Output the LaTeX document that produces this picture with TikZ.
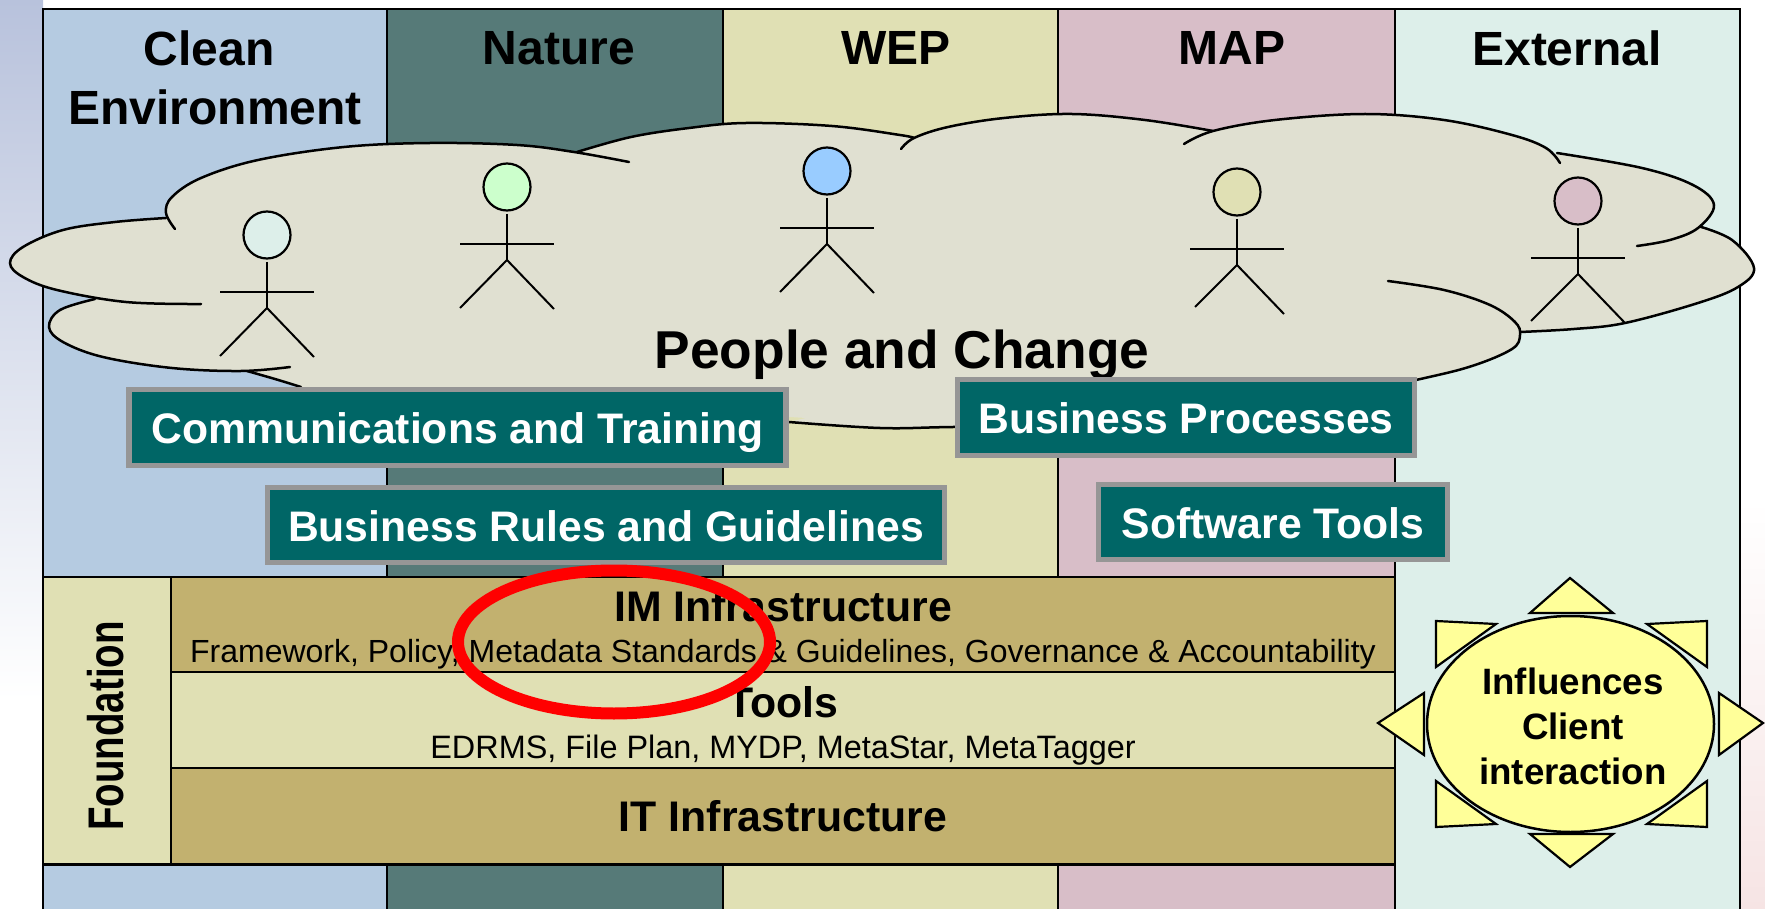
\documentclass[tikz,border=0pt]{standalone}
\usepackage{fontspec}
\setmainfont{Liberation Sans}
\usetikzlibrary{positioning,shapes.geometric}
\definecolor{cleancol}{HTML}{B5CBE1}
\definecolor{naturecol}{HTML}{567A78}
\definecolor{wepcol}{HTML}{E0E0B4}
\definecolor{mapcol}{HTML}{D8BEC8}
\definecolor{extcol}{HTML}{DDEFEA}
\definecolor{cloudcol}{HTML}{E0E0D1}
\definecolor{goldcol}{HTML}{C2B16F}
\definecolor{tealcol}{HTML}{006666}
\definecolor{greycol}{HTML}{969696}
\definecolor{sunnycol}{HTML}{FFFF99}
\definecolor{greenhead}{HTML}{CCFFCC}
\definecolor{bluehead}{HTML}{99CCFF}
\definecolor{edgeblue}{HTML}{B8C2DC}
\definecolor{edgemid}{HTML}{E6E4F4}
\definecolor{edgepink}{HTML}{F6E4E4}
\tikzset{
  heading/.style={font=\fontsize{48}{57}\selectfont\bfseries, align=center, inner sep=0pt},
  tealbox/.style={draw=greycol, line width=5.5pt, fill=tealcol, text=white, inner sep=0pt,
    text height=41pt, text depth=9pt, font=\fontsize{42.7}{48}\selectfont\bfseries},
  band/.style={draw=black, line width=2.8pt, inner sep=0pt, outer sep=0pt},
  bandtitle/.style={font=\fontsize{42.8}{46}\selectfont\bfseries, inner sep=0pt},
  bandsub/.style={font=\fontsize{32}{36}\selectfont, inner sep=0pt},
  cloudline/.style={draw=black, line width=2.5pt, fill=cloudcol, line cap=round},
  headnode/.style={circle, draw=black, line width=2.2pt, minimum size=47pt, inner sep=0pt},
  limb/.style={draw=black, line width=2pt},
  ray/.style={draw=black, line width=2.2pt, fill=sunnycol, line join=miter},
}
\begin{document}
\begin{tikzpicture}[x=1pt, y=-1pt]
\useasboundingbox (0,0) rectangle (1765,909);
% slide background at the edges
\shade[top color=edgeblue, middle color=edgemid, bottom color=white] (0,0) rectangle (43,700);
\shade[top color=white, bottom color=edgepink] (1740,500) rectangle (1765,909);
% columns
\foreach \nm/\xa/\xb/\col in {clean/43/387/cleancol, nature/387/723/naturecol, wep/723/1058/wepcol, map/1058/1395/mapcol, ext/1395/1740/extcol}
  \node[band, fill=\col, minimum width=\xb pt-\xa pt, minimum height=920pt, anchor=north west] (\nm) at (\xa,9) {};
\node[heading] (cleanlab) at (209,48) {Clean};
\node[heading] (envlab) at (215,107) {Environment};
\node[heading] (naturelab) at (559,48.5) {Nature};
\node[heading] (weplab) at (896,48) {WEP};
\node[heading] (maplab) at (1232,48) {MAP};
\node[heading] (extlab) at (1567,48) {External};
% cloud
\fill[cloudcol] (166,218) -- (577,152) -- (746,132) -- (914,138) -- (1213,131) -- (1554,153) -- (1698,226) -- (1625,323) -- (1520,332)
  -- (1416,380) -- (953,427) -- (301,387) -- (247,371) -- (95,299) -- cycle;
\draw[cloudline] plot[smooth, tension=.6] coordinates {(175,229) (166,213) (172,197) (201,178) (258,160) (344,147) (430,143) (517,145) (574,152) (629,162)};
\draw[cloudline] plot[smooth, tension=.6] coordinates {(577,152) (631,137) (689,128) (746,123) (832,126) (900,135) (914,138)};
\draw[cloudline] plot[smooth, tension=.6] coordinates {(901,149) (914,138) (948,127) (1004,118) (1072,114) (1145,120) (1213,131)};
\draw[cloudline] plot[smooth, tension=.6] coordinates {(1184,144) (1213,131) (1275,120) (1365,114) (1444,120) (1512,135) (1546,148) (1560,163)};
\draw[cloudline] plot[smooth, tension=.6] coordinates {(1698,226) (1732,240) (1754,268) (1738,287) (1698,303) (1625,323) (1574,329) (1520,332)};
\draw[cloudline] plot[smooth, tension=.6] coordinates {(1557,153) (1642,168) (1693,185) (1714,205) (1698,228) (1670,240) (1637,246)};
\draw[cloudline] plot[smooth, tension=.6] coordinates {(1388,281) (1444,290) (1490,305) (1515,322) (1520,335) (1512,349) (1472,366) (1416,380) (1300,405) (1100,425) (953,427) (880,428) (789,422)};
\draw[cloudline] plot[smooth, tension=.6] coordinates {(301,387) (275,379) (247,371)};
\draw[cloudline] plot[smooth, tension=.6] coordinates {(290,367) (241,371) (172,368) (103,357) (63,342) (49,327) (60,310) (95,299)};
\draw[cloudline] plot[smooth, tension=.6] coordinates {(201,304) (126,302) (57,290) (23,277) (10,263) (23,247) (63,230) (115,222) (166,218)};
% people
\foreach \i/\px/\py/\hd/\lx/\ly in {a/267/235/extcol/47/121, b/507/187/greenhead/47/121, c/827/171/bluehead/47/121, d/1237/192/wepcol/42/115, e/1578/201/mapcol/47/120} {
  \node[headnode, fill=\hd] (head\i) at (\px,\py) {};
  \draw[limb] (\px,\py+27) -- (\px,\py+73);
  \draw[limb] (\px-47,\py+57) -- (\px+47,\py+57);
  \draw[limb] (\px-\lx,\py+\ly) -- (\px,\py+73) -- (\px+47,\py+122);
}
\node[font=\fontsize{53.3}{56}\selectfont\bfseries, inner sep=0pt] (people) at (902,355) {People and Change};
% process boxes
\node[tealbox, minimum width=657pt, minimum height=76pt] (comms) at (457.5,427.5) {Communications and Training};
\node[tealbox, minimum width=677pt, minimum height=75pt] (rules) at (606,525) {Business Rules and Guidelines};
\node[tealbox, minimum width=457pt, minimum height=76pt] (procs) at (1186,417.5) {Business Processes};
\node[tealbox, minimum width=349pt, minimum height=75pt] (soft) at (1273,522) {Software Tools};
% foundation
\node[band, fill=wepcol, minimum width=128pt, minimum height=287.5pt, anchor=north west] (found) at (43,577) {};
\node[band, fill=goldcol, minimum width=1224pt, minimum height=95pt, anchor=north west] (iminf) at (171,577) {};
\node[band, fill=wepcol, minimum width=1224pt, minimum height=96pt, anchor=north west] (toolsband) at (171,672) {};
\node[band, fill=goldcol, minimum width=1224pt, minimum height=96.5pt, anchor=north west] (itinf) at (171,768) {};
\node[rotate=90, inner sep=0pt, font=\fontsize{38.5}{40}\selectfont\bfseries] (foundlab) at (106,726) {\scalebox{1}[1.3]{Foundation}};
\node[bandtitle] (imlab) at (783,606) {IM Infrastructure};
\node[bandsub] (imsub) at (783,654) {Framework, Policy, Metadata Standards \& Guidelines, Governance \& Accountability};
\node[bandtitle] (toolslab) at (783,702) {Tools};
\node[bandsub, font=\fontsize{32.4}{36}\selectfont] (toolssub) at (783,750) {EDRMS, File Plan, MYDP, MetaStar, MetaTagger};
\node[bandtitle] (itlab) at (783,816) {IT Infrastructure};
\node[ellipse, draw=red, line width=12pt, minimum width=312pt, minimum height=143pt, inner sep=0pt, outer sep=0pt] (circ) at (614,642) {};
% influences
\foreach \ax/\ay/\bx/\by/\cx/\cy in {1570/578/1530/613/1613/613, 1530/834/1613/834/1570/867, 1378/723/1424/693/1424/755, 1763/723/1719/693/1719/755, 1436/621/1496/624/1436/667, 1707/621/1647/624/1707/667, 1436/781/1496/824/1436/827, 1707/781/1647/824/1707/827}
  \draw[ray] (\ax,\ay) -- (\bx,\by) -- (\cx,\cy) -- cycle;
\node[ellipse, draw=black, line width=2.5pt, fill=sunnycol, minimum width=287pt, minimum height=216pt, inner sep=0pt] (sun) at (1570.5,724) {};
\node[align=center, inner sep=0pt, font=\fontsize{36.7}{45}\selectfont\bfseries] (sunlab) at (1573,726.5) {Influences\\Client\\interaction};
\end{tikzpicture}
\end{document}
